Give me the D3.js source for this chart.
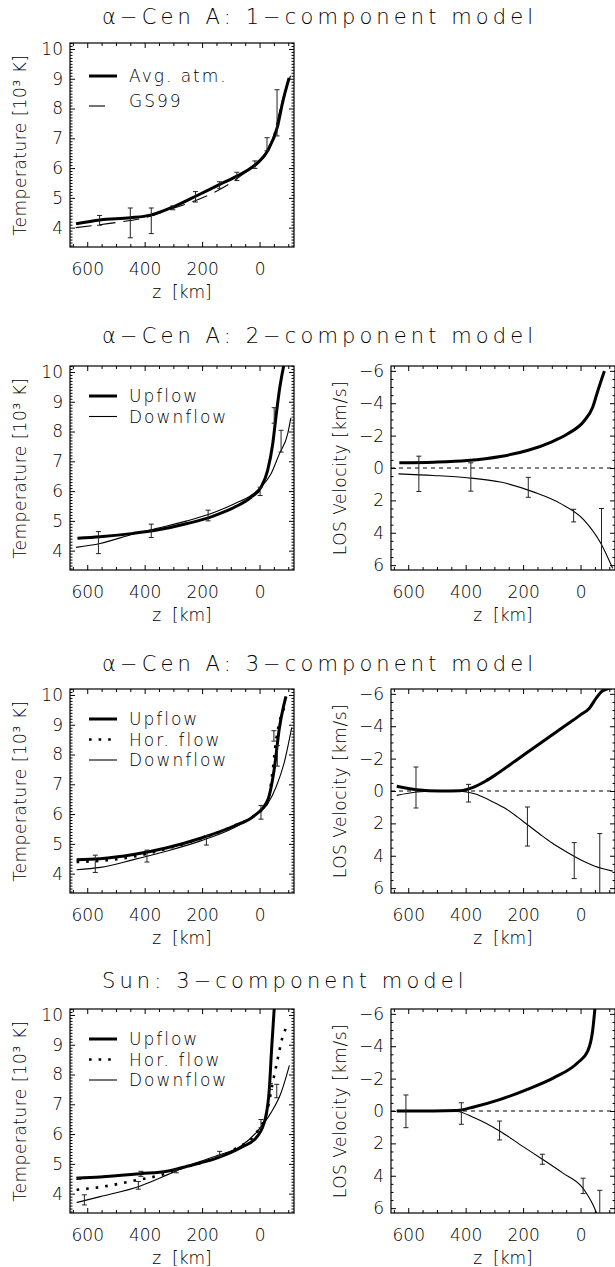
<!DOCTYPE html>
<html lang="en">
<head>
<meta charset="UTF-8" />
<title>Temperature and LOS velocity models</title>
<style>
  body { margin: 0; background: #fff; }
  svg text { font-family: "DejaVu Sans", sans-serif; font-weight: 200; fill: #000; }
</style>
</head>
<body>
<svg id="chart" width="615" height="1267"></svg>
<script src="https://d3js.org/d3.v7.min.js"></script>
<script>
// ---- data: [z (km), value] pairs ----
const titles = ['α−Cen A: 1−component model', 'α−Cen A: 2−component model',
                'α−Cen A: 3−component model', 'Sun: 3−component model'];
const zTicks = [600, 400, 200, 0];
const tTicks = [4, 5, 6, 7, 8, 9, 10];
const vTicks = [-6, -4, -2, 0, 2, 4, 6];

// row 1: alpha Cen A, 1-component
const cen1Avg = [[639,4.13],[555,4.26],[450,4.33],[380,4.42],[300,4.7],[217,5.08],[135,5.47],[77,5.74],[19,6.08],[-28,6.58],[-63,7.41],[-80,8.19],[-103,9.03]];
const cen1Gs99 = [[640,4.0],[500,4.17],[400,4.33],[300,4.65],[220,4.92],[150,5.22],[100,5.5],[50,5.85],[0,6.2],[-40,6.8],[-60,7.5],[-80,8.3],[-108,9.1]];
const cen1Err = [[557,4.08,4.41],[450,3.66,4.66],[377,3.8,4.66],[302,4.6,4.73],[223,4.86,5.21],[139,5.32,5.54],[79,5.58,5.86],[16,5.99,6.24],[-26,6.58,7.02],[-61,7.08,8.63]];

// row 2: alpha Cen A, 2-component
const cen2Up = [[634,4.42],[555,4.47],[439,4.58],[357,4.69],[252,4.91],[159,5.17],[89,5.45],[30,5.79],[-5,6.13],[-28,6.69],[-46,7.59],[-57,8.48],[-69,9.38],[-84,10.2]];
const cen2Down = [[639,4.11],[555,4.24],[439,4.56],[357,4.75],[252,5.0],[159,5.28],[89,5.57],[30,5.85],[-5,6.13],[-40,6.58],[-69,7.25],[-98,7.92],[-109,8.46]];
const cen2TErr = [[561,3.9,4.64],[377,4.44,4.89],[179,5.0,5.36],[-2,5.85,6.13],[-51,8.28,8.8],[-75,7.31,8.04]];
const cen2VUp = [[631,-0.32],[512,-0.36],[395,-0.46],[279,-0.71],[185,-1.08],[104,-1.59],[46,-2.1],[-13,-2.92],[-42,-3.74],[-60,-4.76],[-83,-5.99]];
const cen2VDown = [[634,0.36],[512,0.46],[395,0.6],[279,0.87],[162,1.49],[69,2.2],[-13,3.23],[-71,4.66],[-112,6.2]];
const cen2VErr = [[563,-0.73,1.45],[382,-0.32,1.43],[182,0.58,1.81],[24,2.55,3.33],[-73,2.5,6.5]];

// row 3: alpha Cen A, 3-component
const cen3Up = [[637,4.47],[555,4.5],[439,4.64],[322,4.87],[205,5.19],[89,5.6],[19,5.94],[-28,6.46],[-51,7.5],[-69,8.88],[-92,9.95]];
const cen3Hor = [[637,4.39],[555,4.43],[439,4.57],[322,4.84],[205,5.18],[89,5.6],[19,5.94],[-28,6.4],[-45,7.4],[-58,8.5],[-75,9.3],[-95,9.65]];
const cen3Down = [[637,4.13],[555,4.21],[439,4.47],[322,4.76],[205,5.1],[89,5.54],[19,5.94],[-28,6.34],[-58,6.92],[-86,7.73],[-112,8.9]];
const cen3TErr = [[572,4.04,4.62],[392,4.39,4.79],[185,4.96,5.28],[-5,5.83,6.29],[-50,8.45,8.8],[-62,7.61,8.3]];
const cen3VUp = [[640,-0.29],[570,-0.08],[489,0.0],[420,-0.02],[372,-0.24],[330,-0.62],[300,-0.95],[220,-1.95],[140,-2.95],[60,-3.95],[0,-4.7],[-30,-5.1],[-55,-5.75],[-72,-6.12],[-95,-6.32],[-120,-6.4]];
const cen3VDown = [[640,0.27],[570,0.06],[489,0.0],[419,0.02],[372,0.16],[302,0.7],[260,1.1],[220,1.6],[180,2.15],[139,2.7],[100,3.2],[57,3.68],[0,4.25],[-50,4.65],[-112,4.95]];
const cen3VErr = [[573,-1.48,1.05],[390,-0.41,0.68],[185,0.99,3.4],[22,3.19,5.41],[-67,2.63,6.5]];

// row 4: Sun, 3-component
const sunUp = [[637,4.52],[555,4.56],[415,4.67],[322,4.75],[252,4.92],[147,5.2],[66,5.54],[7,5.93],[-22,6.6],[-34,7.5],[-42,8.85],[-51,10.2]];
const sunHor = [[637,4.13],[555,4.22],[439,4.43],[342,4.63],[270,4.86],[205,5.03],[89,5.48],[7,6.1],[-28,6.83],[-46,7.73],[-63,8.51],[-80,9.25],[-92,9.55]];
const sunDown = [[637,3.7],[555,3.9],[415,4.26],[322,4.63],[252,4.92],[147,5.28],[66,5.59],[7,6.1],[-40,6.72],[-75,7.39],[-104,8.31]];
const sunTErr = [[630,4.48,4.55],[610,3.62,3.96],[413,4.58,4.75],[422,4.15,4.41],[290,4.7,4.8],[139,5.25,5.42],[-5,6.21,6.49],[-38,7.5,7.7],[-60,7.22,7.67]];
const sunVUp = [[640,0],[512,0],[430,-0.03],[372,-0.25],[279,-0.72],[185,-1.34],[92,-2.06],[10,-2.98],[-25,-3.7],[-42,-4.94],[-50,-6.3]];
const sunVDown = [[640,0],[512,0],[430,0.03],[372,0.4],[282,1.23],[200,2.2],[133,2.98],[60,3.85],[0,4.6],[-25,5.2],[-45,5.85],[-58,6.4]];
const sunVErr = [[608,-0.99,1.03],[415,-0.51,0.82],[282,0.62,1.79],[133,2.67,3.29],[-9,4.15,5.1],[-67,4.9,6.5]];

// ---- layout ----
const svg = d3.select('#chart');
const W = 224, H = 204;
const colX = [70, 391];
const rowTop = [43, 366, 689, 1009];
const titleY = [24, 343, 671, 988];

const styles = {
  thick: { w: 3, dash: null },
  thin:  { w: 1.1, dash: null },
  dot:   { w: 2.6, dash: '2.6,7' },
  dash:  { w: 1.1, dash: '16,8' }
};

const panels = [
  { row: 0, col: 0, kind: 'T', err: cen1Err, legendStep: 25,
    series: [{ data: cen1Avg, style: 'thick', label: 'Avg. atm.' }, { data: cen1Gs99, style: 'dash', label: 'GS99' }] },
  { row: 1, col: 0, kind: 'T', err: cen2TErr,
    series: [{ data: cen2Up, style: 'thick', label: 'Upflow' }, { data: cen2Down, style: 'thin', label: 'Downflow' }] },
  { row: 1, col: 1, kind: 'V', err: cen2VErr,
    series: [{ data: cen2VUp, style: 'thick' }, { data: cen2VDown, style: 'thin' }] },
  { row: 2, col: 0, kind: 'T', err: cen3TErr,
    series: [{ data: cen3Up, style: 'thick', label: 'Upflow' }, { data: cen3Hor, style: 'dot', label: 'Hor. flow' }, { data: cen3Down, style: 'thin', label: 'Downflow' }] },
  { row: 2, col: 1, kind: 'V', err: cen3VErr,
    series: [{ data: cen3VUp, style: 'thick' }, { data: cen3VDown, style: 'thin' }] },
  { row: 3, col: 0, kind: 'T', err: sunTErr,
    series: [{ data: sunUp, style: 'thick', label: 'Upflow' }, { data: sunHor, style: 'dot', label: 'Hor. flow' }, { data: sunDown, style: 'thin', label: 'Downflow' }] },
  { row: 3, col: 1, kind: 'V', err: sunVErr,
    series: [{ data: sunVUp, style: 'thick' }, { data: sunVDown, style: 'thin' }] }
];

titles.forEach((t, i) => {
  svg.append('text').attr('x', 102).attr('y', titleY[i])
    .style('font-size', '21px').style('letter-spacing', '4.1px').text(t);
});

function strokeLine(sel, style) {
  const s = styles[style];
  sel.attr('fill', 'none').attr('stroke', '#000').attr('stroke-width', s.w);
  if (s.dash) sel.attr('stroke-dasharray', s.dash);
  return sel;
}

panels.forEach((p, idx) => {
  const x0 = colX[p.col], y0 = rowTop[p.row];
  const g = svg.append('g').attr('transform', `translate(${x0},${y0})`);

  const x = d3.scaleLinear().domain([660, -120]).range([0, W]);
  const y = p.kind === 'T'
    ? d3.scaleLinear().domain([3.35, 10.2]).range([H, 0])
    : d3.scaleLinear().domain([-6.3, 6.3]).range([0, H]);
  const majors = p.kind === 'T' ? tTicks : vTicks;
  const minors = p.kind === 'T'
    ? d3.range(34, 103).map(d => d / 10).filter(d => !majors.includes(d))
    : d3.range(-12, 13).map(d => d / 2).filter(d => !majors.includes(d));
  const zMinor = d3.range(650, -121, -50).filter(d => !zTicks.includes(d));

  // axes, ticks pointing inward
  const fmt = d3.format('d');
  g.append('g').attr('transform', `translate(0,${H})`)
    .call(d3.axisBottom(x).tickValues(zTicks).tickSize(-5).tickPadding(16).tickFormat(fmt));
  g.append('g').attr('transform', `translate(0,${H})`)
    .call(d3.axisBottom(x).tickValues(zMinor).tickSize(-3).tickFormat(''));
  g.append('g').call(d3.axisTop(x).tickValues(zTicks).tickSize(-5).tickFormat(''));
  g.append('g').call(d3.axisTop(x).tickValues(zMinor).tickSize(-3).tickFormat(''));
  g.append('g').call(d3.axisLeft(y).tickValues(majors).tickSize(-5).tickPadding(7).tickFormat(fmt));
  g.append('g').call(d3.axisLeft(y).tickValues(minors).tickSize(-2.5).tickFormat(''));
  g.append('g').attr('transform', `translate(${W},0)`)
    .call(d3.axisRight(y).tickValues(majors).tickSize(-5).tickFormat(''));
  g.append('g').attr('transform', `translate(${W},0)`)
    .call(d3.axisRight(y).tickValues(minors).tickSize(-2.5).tickFormat(''));
  g.selectAll('.domain').remove();
  g.selectAll('.tick line').attr('stroke', '#000').attr('stroke-width', 1);
  g.selectAll('.tick text').style('font-size', '17px').attr('fill', '#000')
    .style('font-family', '"DejaVu Sans", sans-serif');

  g.append('rect').attr('width', W).attr('height', H)
    .attr('fill', 'none').attr('stroke', '#000').attr('stroke-width', 1.2);

  // axis titles
  g.append('text').attr('x', W / 2).attr('y', H + 51).attr('text-anchor', 'middle')
    .style('font-size', '17px').text('z\u00a0\u00a0[km]');
  g.append('text')
    .attr('transform', `translate(${p.kind === 'T' ? -44 : -45},${H / 2}) rotate(-90)`)
    .attr('text-anchor', 'middle').style('font-size', '17px').style('letter-spacing', '0.5px')
    .text(p.kind === 'T' ? 'Temperature [10³ K]' : 'LOS Velocity [km/s]');

  // plot area
  const clipId = 'clip' + idx;
  g.append('clipPath').attr('id', clipId).append('rect').attr('width', W).attr('height', H);
  const area = g.append('g').attr('clip-path', `url(#${clipId})`);

  if (p.kind === 'V') {
    area.append('line').attr('x1', 0).attr('x2', W).attr('y1', y(0)).attr('y2', y(0))
      .attr('stroke', '#000').attr('stroke-width', 1).attr('stroke-dasharray', '4,4');
  }

  const line = d3.line().x(d => x(d[0])).y(d => y(d[1])).curve(d3.curveMonotoneX);
  p.series.forEach(s => {
    strokeLine(area.append('path').datum(s.data).attr('d', line), s.style);
  });

  const eb = area.append('g').attr('stroke', '#222').attr('stroke-width', 1);
  p.err.forEach(e => {
    const cx = x(e[0]);
    eb.append('line').attr('x1', cx).attr('x2', cx).attr('y1', y(e[1])).attr('y2', y(e[2]));
    [e[1], e[2]].forEach(v => {
      eb.append('line').attr('x1', cx - 2.5).attr('x2', cx + 2.5).attr('y1', y(v)).attr('y2', y(v));
    });
  });

  // legend
  const labelled = p.series.filter(s => s.label);
  const step = p.legendStep || 20.5;
  labelled.forEach((s, i) => {
    const ly = (p.legendStep ? 33 : 30) + i * step;
    const sx1 = 19, sx2 = s.style === 'dash' ? 36 : 47;
    const lyLine = s.style === 'dash' ? ly + 5 : ly;
    strokeLine(g.append('line').attr('x1', sx1).attr('x2', sx2).attr('y1', lyLine).attr('y2', lyLine), s.style);
    g.append('text').attr('x', 59).attr('y', ly + 6)
      .style('font-size', '17px').style('letter-spacing', '2px').text(s.label);
  });
});
</script>
</body>
</html>
